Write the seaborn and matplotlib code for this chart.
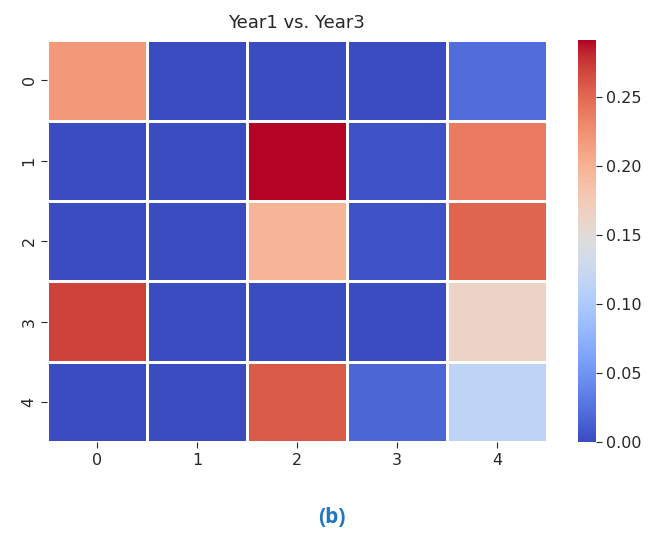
import numpy as np
import pandas as pd
import matplotlib
matplotlib.use("Agg")
import matplotlib.pyplot as plt
import seaborn as sns

rows = ["0", "1", "2", "3", "4"]
cols = ["0", "1", "2", "3", "4"]
row0 = [0.219, 0.000, 0.000, 0.000, 0.022]
row1 = [0.000, 0.000, 0.291, 0.004, 0.238]
row2 = [0.000, 0.000, 0.197, 0.004, 0.252]
row3 = [0.270, 0.000, 0.000, 0.000, 0.163]
row4 = [0.000, 0.000, 0.258, 0.018, 0.115]

data = pd.DataFrame([row0, row1, row2, row3, row4], index=rows, columns=cols)

fig = plt.figure(figsize=(6.56, 5.36), dpi=100)
ax = fig.add_axes([0.0716, 0.175, 0.762, 0.750])
cax = fig.add_axes([0.881, 0.175, 0.0275, 0.750])

sns.heatmap(data, cmap="coolwarm", vmin=0, vmax=0.291, linewidths=1,
            linecolor="white", ax=ax, cbar_ax=cax)

ax.set_title("Year1 vs. Year3", fontsize=13, color="#262626", pad=9)
ax.tick_params(axis="both", labelsize=11.5, colors="#262626", length=4)
for t in ax.get_xticklabels() + ax.get_yticklabels():
    t.set_color("#262626")
cax.tick_params(labelsize=11.5, colors="#262626", length=4)
cax.set_yticks([0.0, 0.05, 0.10, 0.15, 0.20, 0.25])
cax.set_yticklabels(["0.00", "0.05", "0.10", "0.15", "0.20", "0.25"])

fig.text(0.506, 0.034, "(b)", ha="center", va="center", fontsize=15,
         fontweight="bold", color="#1f78c1", family="Open Sans")

fig.savefig("out.png", dpi=100)
